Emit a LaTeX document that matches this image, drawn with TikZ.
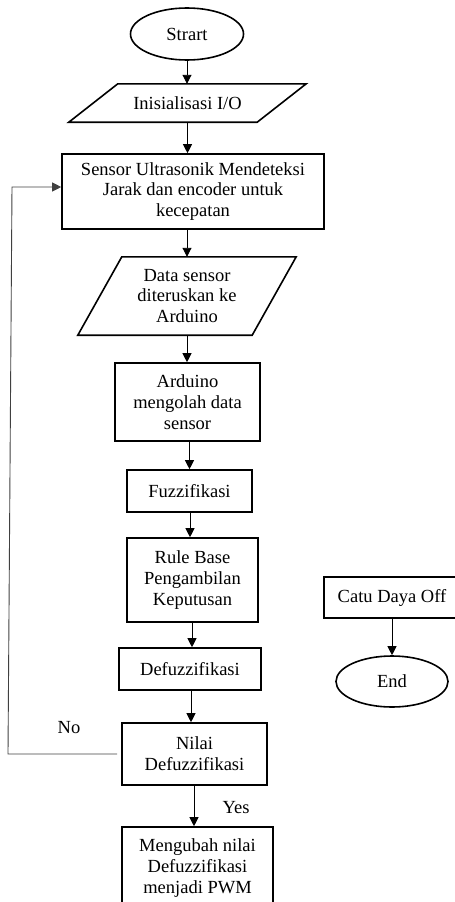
\documentclass[tikz,border=0pt]{standalone}
\usepackage{fontspec}
\setmainfont{Liberation Serif}
\usetikzlibrary{shapes.geometric,arrows.meta,calc}
\begin{document}
\begin{tikzpicture}[x=1pt,y=-1pt,
  every node/.style={font=\fontsize{18.5}{20.7}\selectfont, align=center, inner sep=0pt},
  procbox/.style={draw, line width=1.6pt, rectangle},
  termbox/.style={draw, line width=1.6pt, ellipse},
  iobox/.style={rectangle, draw=none},
  ioline/.style={line width=1.6pt, line join=miter},
  arr/.style={line width=0.9pt, -{Triangle[length=9pt,width=9pt]}},
  looparr/.style={line width=0.9pt, draw=black!75, -{Triangle[length=9pt,width=9pt]}},
  lbl/.style={font=\fontsize{18.5}{20.7}\selectfont}
]
\useasboundingbox (0,0) rectangle (455,902);
\clip (0,0) rectangle (455,902);

% nodes
\node[termbox, minimum width=113pt, minimum height=52pt] (start) at (187,34) {Strart};
\node[iobox, minimum width=237pt, minimum height=38pt] (init) at (187.5,103) {Inisialisasi I/O};
\node[procbox, minimum width=262pt, minimum height=75pt] (sensor) at (193,191.5) {Sensor Ultrasonik Mendeteksi\\Jarak dan encoder untuk\\kecepatan};
\node[iobox, minimum width=218pt, minimum height=78pt] (data) at (187,296) {Data sensor\\diteruskan ke\\Arduino};
\node[procbox, minimum width=145pt, minimum height=78pt] (ard) at (187.5,402) {Arduino\\mengolah data\\sensor};
\node[procbox, minimum width=125pt, minimum height=42pt] (fuzz) at (189.5,491) {Fuzzifikasi};
\node[procbox, minimum width=131pt, minimum height=84pt] (rule) at (192.5,580) {Rule Base\\Pengambilan\\Keputusan};
\node[procbox, minimum width=142pt, minimum height=42pt] (defuzz) at (190,669) {Defuzzifikasi};
\node[procbox, minimum width=145pt, minimum height=62pt] (nilai) at (194.5,754) {Nilai\\Defuzzifikasi};
\node[procbox, minimum width=151pt, minimum height=82pt] (pwm) at (197.5,868) {Mengubah nilai\\Defuzzifikasi\\menjadi PWM};
\node[procbox, minimum width=136pt, minimum height=41pt] (catu) at (392,597.5) {Catu Daya Off};
\node[termbox, minimum width=112pt, minimum height=51pt] (end) at (392,681.5) {End};

% parallelogram outlines
\draw[ioline] ($(init.north west)+(49,0)$) -- (init.north east) -- ($(init.south east)+(-49,0)$) -- (init.south west) -- cycle;
\draw[ioline] ($(data.north west)+(44,0)$) -- (data.north east) -- ($(data.south east)+(-44,0)$) -- (data.south west) -- cycle;

% labels
\node[lbl] (no) at (69,728) {No};
\node[lbl] (yes) at (236,808) {Yes};

% connectors
\draw[arr] (start.south) -- (start.south |- init.north);
\draw[arr] (init.south) -- (init.south |- sensor.north);
\draw[arr] (sensor.south -| data.north) -- (data.north);
\draw[arr] (data.south) -- (data.south |- ard.north);
\draw[arr] (ard.south -| fuzz.north) -- (fuzz.north);
\draw[arr] (fuzz.south -| 190,0) -- (190,0 |- rule.north);
\draw[arr] (rule.south -| 192,0) -- (192,0 |- defuzz.north);
\draw[arr] (defuzz.south -| 191,0) -- (191,0 |- nilai.north);
\draw[arr] (nilai.south -| 194,0) -- (194,0 |- pwm.north);
\draw[arr] (catu.south) -- (end.north);

% loop back
\coordinate (loopx) at (12,0);
\coordinate (sensorin) at ([yshift=4.5pt]sensor.west);
\draw[looparr] ([xshift=-4pt]nilai.west) -- ([xshift=-4pt]nilai.west -| loopx) -- (loopx |- sensorin) -- (sensorin);
\end{tikzpicture}
\end{document}
